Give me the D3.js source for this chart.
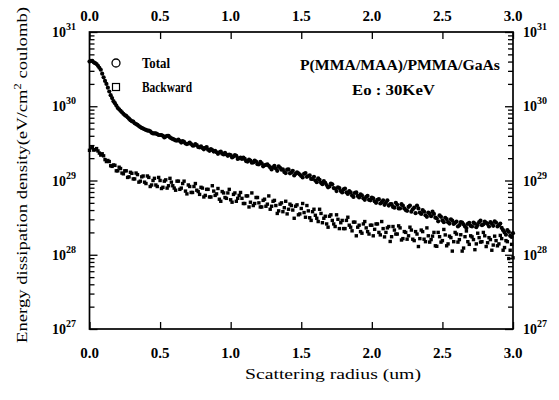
<!DOCTYPE html>
<html>
<head>
<meta charset="utf-8">
<script src="https://cdn.jsdelivr.net/npm/d3@7"></script>
<style>
body{margin:0;background:#fff}
text{font-family:"Liberation Serif","DejaVu Serif",serif;fill:#000}
.bold{font-weight:bold}
</style>
</head>
<body>
<svg id="chart" width="559" height="400"></svg>
<script>
// axis ticks
const xTicks = [0, 0.5, 1.0, 1.5, 2.0, 2.5, 3.0];
const xTickLabels = ["0.0", "0.5", "1.0", "1.5", "2.0", "2.5", "3.0"];
const yDecades = [1e27, 1e28, 1e29, 1e30, 1e31];
const yExponents = ["27", "28", "29", "30", "31"];
const seriesNames = ["Total", "Backward"];

// [scattering radius (um), energy dissipation density (eV/cm^2 coulomb)]
const totalData = [
[0.00,4.0e30],[0.02,4.1e30],[0.04,3.8e30],[0.06,3.5e30],[0.08,3.1e30],[0.10,2.45e30],[0.12,2.0e30],[0.14,1.58e30],[0.16,1.29e30],[0.18,1.10e30],
[0.20,9.5e29],[0.22,8.7e29],[0.24,7.9e29],[0.26,7.4e29],[0.28,6.8e29],[0.30,6.3e29],[0.32,5.9e29],[0.34,5.6e29],[0.36,5.25e29],[0.38,5.0e29],
[0.40,4.8e29],[0.42,4.7e29],[0.44,4.4e29],[0.46,4.3e29],[0.48,4.2e29],[0.50,4.1e29],[0.52,4.0e29],[0.54,3.9e29],[0.56,4.0e29],[0.58,3.7e29],
[0.60,3.55e29],[0.62,3.45e29],[0.64,3.4e29],[0.66,3.4e29],[0.68,3.15e29],[0.70,3.15e29],[0.72,3.1e29],[0.74,2.95e29],[0.76,3.0e29],[0.78,2.8e29],
[0.80,2.75e29],[0.82,2.75e29],[0.84,2.6e29],[0.86,2.65e29],[0.88,2.45e29],[0.90,2.4e29],[0.92,2.4e29],[0.94,2.3e29],[0.96,2.35e29],[0.98,2.15e29],
[1.00,2.2e29],[1.02,2.1e29],[1.04,2.15e29],[1.06,2.0e29],[1.08,1.95e29],[1.10,1.95e29],[1.12,1.8e29],[1.14,1.85e29],[1.16,1.75e29],[1.18,1.8e29],
[1.20,1.65e29],[1.22,1.7e29],[1.24,1.6e29],[1.26,1.65e29],[1.28,1.5e29],[1.30,1.5e29],[1.32,1.45e29],[1.34,1.55e29],[1.36,1.4e29],[1.38,1.3e29],
[1.40,1.4e29],[1.42,1.25e29],[1.44,1.35e29],[1.46,1.23e29],[1.48,1.25e29],[1.50,1.15e29],[1.52,1.23e29],[1.54,1.12e29],[1.56,1.17e29],[1.58,1.05e29],
[1.60,1.0e29],[1.62,1.07e29],[1.64,9.3e28],[1.66,9.8e28],[1.68,8.7e28],[1.70,8.3e28],[1.72,8.9e28],[1.74,7.8e28],[1.76,8.1e28],[1.78,7.2e28],
[1.80,7.6e28],[1.82,6.9e28],[1.84,7.2e28],[1.86,6.3e28],[1.88,6.8e28],[1.90,6.2e28],[1.92,6.5e28],[1.94,5.75e28],[1.96,6.0e28],[1.98,5.5e28],
[2.00,5.9e28],[2.02,5.25e28],[2.04,5.5e28],[2.06,4.9e28],[2.08,5.4e28],[2.10,5.0e28],[2.12,4.6e28],[2.14,4.8e28],[2.16,4.3e28],[2.18,4.7e28],
[2.20,4.2e28],[2.22,4.6e28],[2.24,4.0e28],[2.26,4.4e28],[2.28,3.8e28],[2.30,4.3e28],[2.32,4.6e28],[2.34,3.7e28],[2.36,4.0e28],[2.38,3.4e28],
[2.40,3.7e28],[2.42,3.3e28],[2.44,3.55e28],[2.46,3.1e28],[2.48,3.4e28],[2.50,2.9e28],[2.52,3.15e28],[2.54,2.75e28],[2.56,3.0e28],[2.58,2.6e28],
[2.60,2.8e28],[2.62,2.5e28],[2.64,2.7e28],[2.66,2.4e28],[2.68,2.6e28],[2.70,2.45e28],[2.72,2.7e28],[2.74,2.35e28],[2.76,2.75e28],[2.78,2.5e28],
[2.80,2.8e28],[2.82,2.6e28],[2.84,2.75e28],[2.86,2.45e28],[2.88,2.7e28],[2.90,2.5e28],[2.92,2.3e28],[2.94,2.0e28],[2.96,2.15e28],[2.98,1.8e28],[3.00,1.95e28],
[0.01,4.1e30],[0.03,3.9e30],[0.05,3.7e30],[0.07,3.3e30],[0.09,2.75e30],[0.11,2.19e30],[0.13,1.78e30],[0.15,1.41e30],[0.17,1.17e30],[0.19,1.02e30],
[0.21,9.1e29],[0.23,8.3e29],[0.25,7.6e29],[0.27,7.1e29],[0.29,6.5e29],[0.31,6.2e29],[0.33,5.75e29],[0.35,5.4e29],[0.37,5.1e29],[0.39,4.9e29],
[0.41,4.7e29],[0.43,4.6e29],[0.45,4.3e29],[0.47,4.3e29],[0.49,4.1e29],[0.51,4.1e29],[0.53,3.8e29],[0.55,4.0e29],[0.57,3.8e29],[0.59,3.63e29],
[0.61,3.47e29],[0.63,3.55e29],[0.65,3.24e29],[0.67,3.31e29],[0.69,3.09e29],[0.71,3.24e29],[0.73,2.95e29],[0.75,3.09e29],[0.77,2.82e29],[0.79,2.88e29],
[0.81,2.63e29],[0.83,2.82e29],[0.85,2.51e29],[0.87,2.57e29],[0.89,2.51e29],[0.91,2.29e29],[0.93,2.45e29],[0.95,2.24e29],[0.97,2.24e29],[0.99,2.24e29],
[1.01,2.04e29],[1.03,2.19e29],[1.05,1.95e29],[1.07,2.04e29],[1.09,2.04e29],[1.11,1.82e29],[1.13,1.91e29],[1.15,1.74e29],[1.17,1.86e29],[1.19,1.66e29],
[1.21,1.78e29],[1.23,1.55e29],[1.25,1.62e29],[1.27,1.58e29],[1.29,1.41e29],[1.31,1.58e29],[1.33,1.35e29],[1.35,1.48e29],[1.37,1.41e29],[1.39,1.26e29],
[1.41,1.41e29],[1.43,1.29e29],[1.45,1.17e29],[1.47,1.29e29],[1.49,1.20e29],[1.51,1.10e29],[1.53,1.26e29],[1.55,1.15e29],[1.57,1.05e29],[1.59,1.12e29],
[1.61,9.5e28],[1.63,1.02e29],[1.65,8.9e28],[1.67,9.3e28],[1.69,8.1e28],[1.71,9.1e28],[1.73,7.9e28],[1.75,7.2e28],[1.77,7.9e28],[1.79,6.9e28],
[1.81,7.8e28],[1.83,6.6e28],[1.85,6.9e28],[1.87,6.0e28],[1.89,6.9e28],[1.91,5.9e28],[1.93,6.3e28],[1.95,5.5e28],[1.97,6.2e28],[1.99,5.4e28],
[2.01,5.75e28],[2.03,5.0e28],[2.05,5.6e28],[2.07,5.1e28],[2.09,4.7e28],[2.11,5.4e28],[2.13,4.8e28],[2.15,4.4e28],[2.17,5.0e28],[2.19,4.2e28],
[2.21,4.8e28],[2.23,4.2e28],[2.25,3.9e28],[2.27,4.6e28],[2.29,4.1e28],[2.31,3.63e28],[2.33,4.2e28],[2.35,3.55e28],[2.37,3.8e28],[2.39,3.24e28],
[2.41,3.55e28],[2.43,3.8e28],[2.45,3.16e28],[2.47,2.82e28],[2.49,3.24e28],[2.51,2.75e28],[2.53,3.02e28],[2.55,2.63e28],[2.57,2.88e28],[2.59,2.69e28],
[2.61,2.4e28],[2.63,2.75e28],[2.65,2.57e28],[2.67,2.29e28],[2.69,2.69e28],[2.71,2.4e28],[2.73,2.63e28],[2.75,2.51e28],[2.77,2.88e28],[2.79,2.57e28],
[2.81,2.69e28],[2.83,2.4e28],[2.85,2.63e28],[2.87,2.82e28],[2.89,2.4e28],[2.91,2.63e28],[2.93,2.14e28],[2.95,1.86e28],[2.97,2.04e28],[2.99,1.74e28]
];

const backwardData = [
[0.00,2.55e29],[0.02,2.8e29],[0.04,2.6e29],[0.06,2.5e29],[0.08,2.2e29],[0.10,2.15e29],[0.12,1.8e29],[0.14,1.8e29],[0.16,1.55e29],[0.18,1.6e29],
[0.20,1.35e29],[0.22,1.45e29],[0.24,1.23e29],[0.26,1.35e29],[0.28,1.12e29],[0.30,1.25e29],[0.32,1.05e29],[0.34,1.2e29],[0.36,9.8e28],[0.38,1.15e29],
[0.40,9.1e28],[0.42,1.1e29],[0.44,8.7e28],[0.46,1.07e29],[0.48,8.3e28],[0.50,1.0e29],[0.52,8.1e28],[0.54,1.02e29],[0.56,8.5e28],[0.58,9.5e28],
[0.60,7.9e28],[0.62,9.8e28],[0.64,7.6e28],[0.66,9.1e28],[0.68,7.2e28],[0.70,8.7e28],[0.72,6.9e28],[0.74,8.3e28],[0.76,7.4e28],[0.78,6.5e28],
[0.80,7.9e28],[0.82,6.3e28],[0.84,7.6e28],[0.86,6.0e28],[0.88,7.2e28],[0.90,6.6e28],[0.92,5.6e28],[0.94,7.1e28],[0.96,5.9e28],[0.98,6.8e28],
[1.00,5.5e28],[1.02,6.5e28],[1.04,5.25e28],[1.06,6.3e28],[1.08,5.75e28],[1.10,4.9e28],[1.12,6.2e28],[1.14,5.1e28],[1.16,4.6e28],[1.18,5.9e28],
[1.20,5.0e28],[1.22,4.4e28],[1.24,5.6e28],[1.26,4.8e28],[1.28,4.1e28],[1.30,5.25e28],[1.32,4.6e28],[1.34,3.9e28],[1.36,5.0e28],[1.38,4.3e28],
[1.40,3.55e28],[1.42,4.8e28],[1.44,4.0e28],[1.46,4.5e28],[1.48,3.45e28],[1.50,4.2e28],[1.52,3.7e28],[1.54,4.6e28],[1.56,3.15e28],[1.58,3.8e28],
[1.60,3.4e28],[1.62,2.8e28],[1.64,3.6e28],[1.66,3.1e28],[1.68,2.6e28],[1.70,3.3e28],[1.72,2.9e28],[1.74,2.4e28],[1.76,3.0e28],[1.78,2.7e28],
[1.80,2.25e28],[1.82,2.9e28],[1.84,2.5e28],[1.86,2.1e28],[1.88,2.75e28],[1.90,2.35e28],[1.92,2.05e28],[1.94,2.6e28],[1.96,2.3e28],[1.98,1.9e28],
[2.00,2.5e28],[2.02,2.2e28],[2.04,2.6e28],[2.06,1.85e28],[2.08,2.25e28],[2.10,2.0e28],[2.12,2.4e28],[2.14,1.75e28],[2.16,2.15e28],[2.18,1.9e28],
[2.20,2.3e28],[2.22,1.65e28],[2.24,2.0e28],[2.26,1.8e28],[2.28,2.15e28],[2.30,1.55e28],[2.32,1.9e28],[2.34,1.65e28],[2.36,2.05e28],[2.38,1.5e28],
[2.40,1.8e28],[2.42,1.6e28],[2.44,2.0e28],[2.46,1.3e28],[2.48,1.75e28],[2.50,1.55e28],[2.52,1.85e28],[2.54,1.4e28],[2.56,1.7e28],[2.58,1.5e28],
[2.60,1.9e28],[2.62,1.6e28],[2.64,1.12e28],[2.66,1.75e28],[2.68,1.5e28],[2.70,1.8e28],[2.72,1.6e28],[2.74,1.4e28],[2.76,1.7e28],[2.78,1.5e28],
[2.80,1.8e28],[2.82,1.45e28],[2.84,1.6e28],[2.86,1.35e28],[2.88,1.55e28],[2.90,1.4e28],[2.92,1.65e28],[2.94,1.25e28],[2.96,1.5e28],[2.98,1.15e28],[3.00,9.1e27],
[0.01,2.75e29],[0.03,2.57e29],[0.05,2.69e29],[0.07,2.34e29],[0.09,2.29e29],[0.11,1.91e29],[0.13,1.86e29],[0.15,1.58e29],[0.17,1.62e29],[0.19,1.35e29],
[0.21,1.51e29],[0.23,1.26e29],[0.25,1.35e29],[0.27,1.10e29],[0.29,1.29e29],[0.31,1.05e29],[0.33,1.26e29],[0.35,9.5e28],[0.37,1.12e29],[0.39,9.5e28],
[0.41,1.15e29],[0.43,8.3e28],[0.45,1.0e29],[0.47,8.7e28],[0.49,1.10e29],[0.51,7.8e28],[0.53,9.8e28],[0.55,7.9e28],[0.57,1.07e29],[0.59,8.5e28],
[0.61,7.4e28],[0.63,9.8e28],[0.65,7.9e28],[0.67,9.8e28],[0.69,6.6e28],[0.71,8.3e28],[0.73,6.9e28],[0.75,9.1e28],[0.77,7.1e28],[0.79,8.1e28],
[0.81,6.0e28],[0.83,7.6e28],[0.85,6.0e28],[0.87,8.5e28],[0.89,6.3e28],[0.91,7.8e28],[0.93,5.25e28],[0.95,6.8e28],[0.97,5.75e28],[0.99,7.6e28],
[1.01,5.1e28],[1.03,6.8e28],[1.05,5.75e28],[1.07,6.9e28],[1.09,4.9e28],[1.11,6.2e28],[1.13,4.4e28],[1.15,6.8e28],[1.17,4.9e28],[1.19,5.9e28],
[1.21,4.4e28],[1.23,5.4e28],[1.25,4.5e28],[1.27,6.2e28],[1.29,4.5e28],[1.31,5.4e28],[1.33,3.6e28],[1.35,4.8e28],[1.37,3.8e28],[1.39,5.25e28],
[1.41,4.1e28],[1.43,4.6e28],[1.45,3.1e28],[1.47,4.7e28],[1.49,3.55e28],[1.51,4.9e28],[1.53,3.2e28],[1.55,3.9e28],[1.57,2.9e28],[1.59,4.1e28],
[1.61,3.1e28],[1.63,4.1e28],[1.65,2.7e28],[1.67,3.3e28],[1.69,2.35e28],[1.71,3.45e28],[1.73,2.6e28],[1.75,3.45e28],[1.77,2.25e28],[1.79,2.9e28],
[1.81,2.25e28],[1.83,3.2e28],[1.85,2.35e28],[1.87,2.75e28],[1.89,1.8e28],[1.91,2.5e28],[1.93,1.95e28],[1.95,2.8e28],[1.97,2.05e28],[1.99,2.5e28],
[2.01,1.8e28],[2.03,2.6e28],[2.05,2.0e28],[2.07,2.8e28],[2.09,1.74e28],[2.11,2.3e28],[2.13,1.51e28],[2.15,2.4e28],[2.17,1.9e28],[2.19,2.45e28],
[2.21,1.58e28],[2.23,2.05e28],[2.25,1.62e28],[2.27,2.35e28],[2.29,1.62e28],[2.31,2.05e28],[2.33,1.29e28],[2.35,2.15e28],[2.37,1.62e28],[2.39,2.3e28],
[2.41,1.48e28],[2.43,1.78e28],[2.45,1.32e28],[2.47,2.0e28],[2.49,1.48e28],[2.51,2.19e28],[2.53,1.32e28],[2.55,1.78e28],[2.57,1.12e28],[2.59,2.0e28],
[2.61,1.48e28],[2.63,1.86e28],[2.65,1.23e28],[2.67,2.09e28],[2.69,1.38e28],[2.71,1.74e28],[2.73,1.17e28],[2.75,1.95e28],[2.77,1.48e28],[2.79,2.0e28],
[2.81,1.29e28],[2.83,1.70e28],[2.85,1.15e28],[2.87,1.78e28],[2.89,1.32e28],[2.91,1.82e28],[2.93,1.15e28],[2.95,1.55e28],[2.97,8.9e27],[2.99,1.38e28]
];

const svg = d3.select("#chart");
const plotL = 89.5, plotR = 513, plotT = 32, plotB = 329;

const x = d3.scaleLinear().domain([0, 3]).range([plotL, plotR]);
const y = d3.scaleLog().domain([1e27, 1e31]).range([plotB, plotT]);

const isDecade = v => Math.abs(Math.log10(v) - Math.round(Math.log10(v))) < 1e-9;
const yAll = y.ticks();

// axes, ticks pointing inward
const gLeft = svg.append("g").attr("transform", "translate(" + plotL + ",0)")
  .call(d3.axisLeft(y).tickValues(yAll).tickFormat("").tickSizeOuter(0));
gLeft.selectAll(".tick line").attr("x2", d => isDecade(d) ? 8 : 5);

const gRight = svg.append("g").attr("transform", "translate(" + plotR + ",0)")
  .call(d3.axisRight(y).tickValues(yAll).tickFormat("").tickSizeOuter(0));
gRight.selectAll(".tick line").attr("x2", d => isDecade(d) ? -8 : -5);

const gBottom = svg.append("g").attr("transform", "translate(0," + plotB + ")")
  .call(d3.axisBottom(x).tickValues(xTicks).tickFormat("").tickSizeOuter(0));
gBottom.selectAll(".tick line").attr("y2", -7);

const gTop = svg.append("g").attr("transform", "translate(0," + plotT + ")")
  .call(d3.axisTop(x).tickValues(xTicks).tickFormat("").tickSizeOuter(0));
gTop.selectAll(".tick line").attr("y2", 7);

svg.selectAll(".domain").remove();
svg.selectAll(".tick line").attr("stroke", "#000").attr("stroke-width", 1.3);

svg.append("rect")
  .attr("x", plotL).attr("y", plotT)
  .attr("width", plotR - plotL).attr("height", plotB - plotT)
  .attr("fill", "none").attr("stroke", "#000").attr("stroke-width", 1.7);

// x tick labels, top and bottom
xTicks.forEach((v, i) => {
  svg.append("text").attr("class", "bold").attr("x", x(v)).attr("y", 358)
    .attr("text-anchor", "middle").attr("font-size", 15).text(xTickLabels[i]);
  svg.append("text").attr("class", "bold").attr("x", x(v)).attr("y", 21)
    .attr("text-anchor", "middle").attr("font-size", 15).text(xTickLabels[i]);
});

// y tick labels, left and right
yDecades.forEach((v, i) => {
  const tl = svg.append("text").attr("class", "bold").attr("x", 76).attr("y", y(v) + 5)
    .attr("text-anchor", "end").attr("font-size", 14);
  tl.append("tspan").text("10");
  tl.append("tspan").attr("dy", -7).attr("font-size", 10).text(yExponents[i]);
  const tr = svg.append("text").attr("class", "bold").attr("x", 523).attr("y", y(v) + 5)
    .attr("font-size", 14);
  tr.append("tspan").text("10");
  tr.append("tspan").attr("dy", -7).attr("font-size", 10).text(yExponents[i]);
});

// axis titles
svg.append("text").attr("x", 333).attr("y", 379).attr("text-anchor", "middle")
  .attr("font-size", 15).attr("textLength", 176).attr("lengthAdjust", "spacingAndGlyphs")
  .text("Scattering radius (um)");

const yt = svg.append("text").attr("transform", "translate(27,175) rotate(-90)")
  .attr("text-anchor", "middle").attr("font-size", 15)
  .attr("textLength", 336).attr("lengthAdjust", "spacingAndGlyphs");
yt.append("tspan").text("Energy dissipation density(eV/cm");
yt.append("tspan").attr("dy", -6).attr("font-size", 10).text("2");
yt.append("tspan").attr("dy", 6).text(" coulomb)");

// data
svg.append("g").selectAll("circle").data(totalData).join("circle")
  .attr("cx", d => x(d[0])).attr("cy", d => y(d[1])).attr("r", 2.1)
  .attr("fill", "#000");

svg.append("g").selectAll("rect").data(backwardData).join("rect")
  .attr("x", d => x(d[0]) - 1.7).attr("y", d => y(d[1]) - 1.7)
  .attr("width", 3.4).attr("height", 3.4).attr("fill", "#000");

// legend
svg.append("circle").attr("cx", 116).attr("cy", 63).attr("r", 4)
  .attr("fill", "none").attr("stroke", "#000").attr("stroke-width", 1.3);
svg.append("rect").attr("x", 112.5).attr("y", 83.5).attr("width", 7).attr("height", 7)
  .attr("fill", "none").attr("stroke", "#000").attr("stroke-width", 1.2);
svg.append("text").attr("class", "bold").attr("x", 142).attr("y", 68).attr("font-size", 14)
  .attr("textLength", 28).attr("lengthAdjust", "spacingAndGlyphs").text(seriesNames[0]);
svg.append("text").attr("class", "bold").attr("x", 142).attr("y", 92).attr("font-size", 14)
  .attr("textLength", 50).attr("lengthAdjust", "spacingAndGlyphs").text(seriesNames[1]);

// annotation
svg.append("text").attr("class", "bold").attr("x", 500).attr("y", 70).attr("text-anchor", "end")
  .attr("font-size", 15).attr("textLength", 200).attr("lengthAdjust", "spacingAndGlyphs")
  .text("P(MMA/MAA)/PMMA/GaAs");
svg.append("text").attr("class", "bold").attr("x", 352).attr("y", 95)
  .attr("font-size", 15).attr("textLength", 83).attr("lengthAdjust", "spacingAndGlyphs")
  .text("Eo :  30KeV");
</script>
</body>
</html>
